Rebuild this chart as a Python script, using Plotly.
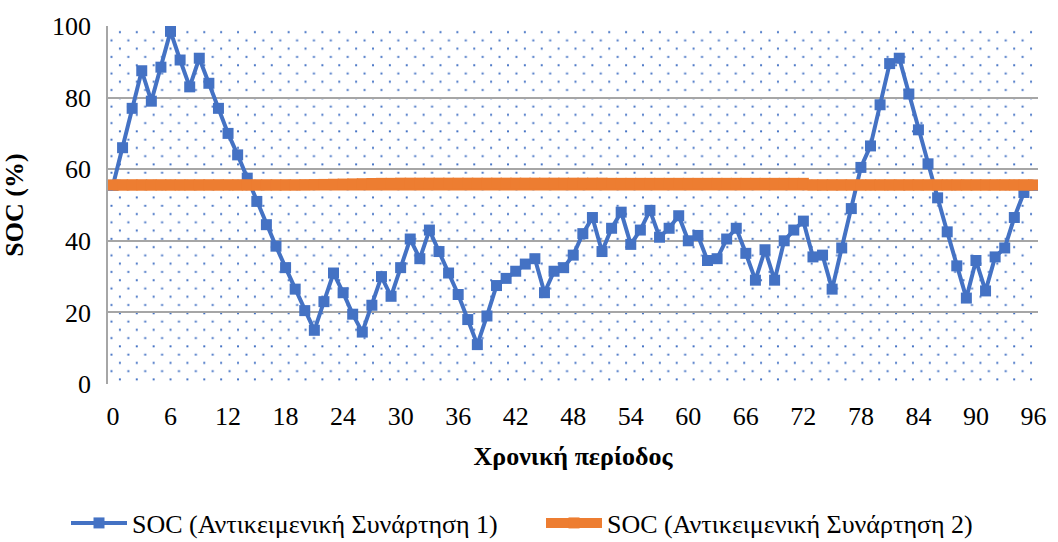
import base64
import plotly.graph_objects as go

# Time periods (quarter-hour steps over one day)
periods = list(range(97))

# State of charge for objective function 1 (%)
soc_obj1 = [
    55.5, 66.0, 77.0, 87.5, 79.0, 88.5, 98.5, 90.5, 83.0, 91.0,
    84.0, 77.0, 70.0, 64.0, 57.5, 51.0, 44.5, 38.5, 32.5, 26.5,
    20.5, 15.0, 23.0, 31.0, 25.5, 19.5, 14.5, 22.0, 30.0, 24.5,
    32.5, 40.5, 35.0, 43.0, 37.0, 31.0, 25.0, 18.0, 11.0, 19.0,
    27.5, 29.5, 31.5, 33.5, 35.0, 25.5, 31.5, 32.5, 36.0, 42.0,
    46.5, 37.0, 43.5, 48.0, 39.0, 43.0, 48.5, 41.0, 43.5, 47.0,
    40.0, 41.5, 34.5, 35.0, 40.5, 43.5, 36.5, 29.0, 37.5, 29.0,
    40.0, 43.0, 45.5, 35.5, 36.0, 26.5, 38.0, 49.0, 60.5, 66.5,
    78.0, 89.5, 91.0, 81.0, 71.0, 61.5, 52.0, 42.5, 33.0, 24.0,
    34.5, 26.0, 35.5, 38.0, 46.5, 53.5, 55.5,
]

# State of charge for objective function 2 (%)
soc_obj2 = (
    [55.6] * 20
    + [55.65, 55.7, 55.75, 55.8, 55.85, 55.9, 55.95, 56.0, 56.05, 56.05, 56.1, 56.1]
    + [56.1] * 20
    + [56.05] * 21
    + [55.6] * 24
)

x_ticks = list(range(0, 97, 6))
y_ticks = [0, 20, 40, 60, 80, 100]

series_names = [
    "SOC (Αντικειμενική Συνάρτηση 1)",
    "SOC (Αντικειμενική Συνάρτηση 2)",
]

BLUE = "#4472C4"
ORANGE = "#ED7D31"
GRID = "#A6A6A6"
FONT = "Liberation Serif"
FS = 26

W, H = 1058, 542
ML, MR, MT, MB = 107, 14, 16, 158
PW, PH = W - ML - MR, H - MT - MB

# Dotted plot-area texture (staggered dot grid)
svg = (
    f'<svg xmlns="http://www.w3.org/2000/svg" width="{PW}" height="{PH}">'
    '<defs><pattern id="d" width="17" height="17" patternUnits="userSpaceOnUse">'
    f'<rect x="11" y="5.3" width="2" height="2" fill="{BLUE}"/>'
    f'<rect x="2.5" y="13.8" width="2" height="2" fill="{BLUE}"/>'
    '</pattern></defs>'
    f'<rect width="{PW}" height="{PH}" fill="url(#d)"/></svg>'
)
svg_uri = "data:image/svg+xml;base64," + base64.b64encode(svg.encode()).decode()

fig = go.Figure()

fig.add_trace(go.Scatter(
    x=periods, y=soc_obj1, name=series_names[0], mode="lines+markers",
    line=dict(color=BLUE, width=4),
    marker=dict(symbol="square", size=11, color=BLUE),
    legend="legend", showlegend=True,
))
fig.add_trace(go.Scatter(
    x=periods, y=soc_obj2, name=series_names[1], mode="lines+markers",
    line=dict(color=ORANGE, width=11),
    marker=dict(symbol="square", size=11, color=ORANGE),
    legend="legend2", showlegend=True,
))

legend_common = dict(
    orientation="h", xref="container", yref="container",
    xanchor="left", yanchor="middle", y=0.035, itemwidth=56,
    font=dict(family=FONT, size=26), bgcolor="rgba(0,0,0,0)",
)

fig.update_layout(
    width=W, height=H,
    showlegend=True,
    margin=dict(l=ML, r=MR, t=MT, b=MB),
    paper_bgcolor="white",
    plot_bgcolor="rgba(0,0,0,0)",
    font=dict(family=FONT, size=FS, color="black"),
    images=[dict(
        source=svg_uri, xref="paper", yref="paper", x=0, y=1,
        sizex=1, sizey=1, xanchor="left", yanchor="top",
        sizing="stretch", layer="below",
    )],
    legend=dict(x=66 / W, **legend_common),
    legend2=dict(x=541 / W, **legend_common),
    xaxis=dict(
        range=[-0.52, 96.47], tickvals=x_ticks, ticktext=[str(t) for t in x_ticks],
        showgrid=False, zeroline=False, showline=False, ticks="",
        ticklabelstandoff=14,
        tickfont=dict(family=FONT, size=FS),
        title=dict(text="<b>Χρονική περίοδος</b>", font=dict(family=FONT, size=FS), standoff=16),
    ),
    yaxis=dict(
        range=[0, 100], tickvals=y_ticks, showgrid=True, gridcolor=GRID, gridwidth=1.5,
        zeroline=False, showline=True, linecolor=GRID, linewidth=1.5, ticks="",
        ticklabelstandoff=10,
        tickfont=dict(family=FONT, size=FS),
        title=dict(text="<b>SOC (%)</b>", font=dict(family=FONT, size=FS), standoff=22),
    ),
)

fig.write_html("out.html")
